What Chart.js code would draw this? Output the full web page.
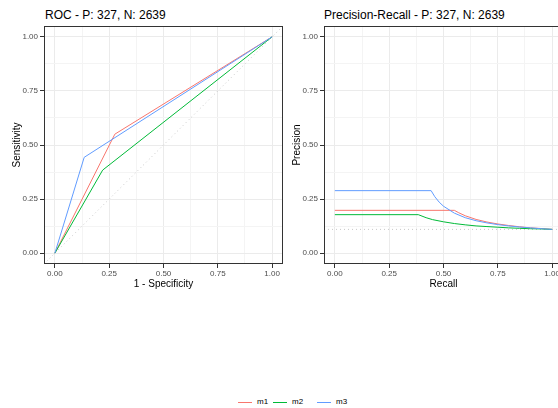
<!DOCTYPE html>
<html lang="en">
<head>
<meta charset="UTF-8">
<title>ROC and Precision-Recall</title>
<script src="https://cdn.jsdelivr.net/npm/chart.js@4.4.1/dist/chart.umd.min.js"></script>
<style type="text/css">
  html, body { margin: 0; padding: 0; background: #fff; overflow: hidden; }
  body { width: 558px; height: 408px; position: relative; font-family: "Liberation Sans", Arial, sans-serif; }
  canvas { position: absolute; top: 0; }
  #roc { left: 0; }
  #pr { left: 280px; }
  .ptitle { position: absolute; top: 9px; font-size: 12px; line-height: 12px; color: #000; white-space: nowrap; }
  .key { position: absolute; top: 402px; width: 14px; height: 1px; }
  .ktext { position: absolute; top: 397px; font-size: 8px; line-height: 10px; color: #000; }
</style>
</head>
<body>
  <div class="ptitle" style="left:45px">ROC - P: 327, N: 2639</div>
  <div class="ptitle" style="left:324px">Precision-Recall - P: 327, N: 2639</div>
  <canvas id="roc" width="290" height="300"></canvas>
  <canvas id="pr" width="290" height="300"></canvas>
  <div id="legend"></div>

<script>
// data
const modelNames = ['m1', 'm2', 'm3'];
const modelColors = ['#F8766D', '#00BA38', '#619CFF'];

// ROC: 1 - specificity vs sensitivity
const m1Fpr = [0, 0.276, 1];
const m1Tpr = [0, 0.550, 1];
const m2Fpr = [0, 0.220, 1];
const m2Tpr = [0, 0.384, 1];
const m3Fpr = [0, 0.135, 1];
const m3Tpr = [0, 0.443, 1];

// precision-recall
const m1Recall = [0, 0.55, 0.57, 0.60, 0.65, 0.70, 0.75, 0.80, 0.85, 0.90, 0.95, 1];
const m1Precision = [0.198, 0.198, 0.187, 0.173, 0.156, 0.144, 0.135, 0.128, 0.122, 0.117, 0.114, 0.110];
const m2Recall = [0, 0.384, 0.42, 0.45, 0.50, 0.55, 0.60, 0.65, 0.70, 0.75, 0.80, 0.85, 0.90, 0.95, 1];
const m2Precision = [0.178, 0.178, 0.164, 0.155, 0.145, 0.137, 0.131, 0.126, 0.123, 0.120, 0.117, 0.115, 0.113, 0.112, 0.110];
const m3Recall = [0, 0.443, 0.46, 0.48, 0.50, 0.55, 0.60, 0.65, 0.70, 0.75, 0.80, 0.85, 0.90, 0.95, 1];
const m3Precision = [0.289, 0.289, 0.261, 0.236, 0.217, 0.185, 0.164, 0.150, 0.140, 0.132, 0.126, 0.121, 0.117, 0.113, 0.110];

const prBaseline = 0.110; // 327 / (327 + 2639)

const gridValues = [0, 0.125, 0.25, 0.375, 0.5, 0.625, 0.75, 0.875, 1];
const tickLabels = ['0.00', '', '0.25', '', '0.50', '', '0.75', '', '1.00'];
const axisMin = -0.05, axisMax = 1.05;

function pts(xs, ys) {
  return xs.map((x, i) => ({x: x, y: ys[i]}));
}

function modelLine(i, data) {
  return {
    label: modelNames[i],
    data: data,
    borderColor: modelColors[i],
    borderWidth: 1,
    pointRadius: 0,
    fill: false,
    order: 3 - i
  };
}

function refLine(data) {
  return {
    label: 'ref',
    data: data,
    borderColor: '#c8c8c8',
    borderWidth: 1,
    borderDash: [1, 3],
    pointRadius: 0,
    fill: false,
    order: 10
  };
}

function axis(dir, titleText) {
  const s = {
    type: 'linear',
    min: axisMin,
    max: axisMax,
    afterBuildTicks: sc => { sc.ticks = gridValues.map(v => ({value: v})); },
    ticks: {
      autoSkip: false,
      maxRotation: 0,
      color: '#4D4D4D',
      font: {family: 'Liberation Sans', size: 8},
      padding: dir == 'x' ? 1 : 2,
      callback: (v, i) => tickLabels[i]
    },
    grid: {
      color: c => (c.index % 2 == 0 ? '#EBEBEB' : '#F4F4F4'),
      lineWidth: 1,
      tickLength: 4,
      tickColor: c => (c.index % 2 == 0 ? '#333333' : 'rgba(0,0,0,0)')
    },
    border: {display: false},
    title: {
      display: true,
      text: titleText,
      color: '#000',
      font: {family: 'Liberation Sans', size: 10}
    }
  };
  if (dir == 'x') {
    s.title.padding = {top: 0, bottom: 10};
    s.afterFit = sc => { sc.height = 36; };
  } else {
    s.title.padding = {top: 11, bottom: 0};
    s.afterFit = sc => { sc.width = 44; };
  }
  return s;
}

// ggplot style panel border
const panelBorder = {
  id: 'panelBorder',
  afterDraw(chart) {
    const a = chart.chartArea;
    const ctx = chart.ctx;
    ctx.save();
    ctx.strokeStyle = '#333333';
    ctx.lineWidth = 1;
    ctx.strokeRect(Math.round(a.left) + 0.5, Math.round(a.top) + 0.5,
      Math.round(a.right - a.left) - 1, Math.round(a.bottom - a.top) - 1);
    ctx.restore();
  }
};

function makeChart(id, datasets, xTitle, yTitle) {
  return new Chart(document.getElementById(id), {
    type: 'line',
    data: {datasets: datasets},
    options: {
      responsive: false,
      animation: false,
      devicePixelRatio: 1,
      events: [],
      layout: {padding: {top: 26, right: 7, bottom: 0, left: 0}},
      plugins: {legend: {display: false}, tooltip: {enabled: false}},
      scales: {x: axis('x', xTitle), y: axis('y', yTitle)}
    },
    plugins: [panelBorder]
  });
}

const rocChart = makeChart('roc', [
  modelLine(0, pts(m1Fpr, m1Tpr)),
  modelLine(1, pts(m2Fpr, m2Tpr)),
  modelLine(2, pts(m3Fpr, m3Tpr)),
  refLine(pts([axisMin, axisMax], [axisMin, axisMax]))
], '1 - Specificity', 'Sensitivity');

const prChart = makeChart('pr', [
  modelLine(0, pts(m1Recall, m1Precision)),
  modelLine(1, pts(m2Recall, m2Precision)),
  modelLine(2, pts(m3Recall, m3Precision)),
  refLine(pts([axisMin, axisMax], [prBaseline, prBaseline]))
], 'Recall', 'Precision');

// legend at the bottom
const keyLeft = [238, 273, 317];
const legend = document.getElementById('legend');
modelNames.forEach((name, i) => {
  const k = document.createElement('div');
  k.className = 'key';
  k.style.left = keyLeft[i] + 'px';
  k.style.background = modelColors[i];
  legend.appendChild(k);
  const t = document.createElement('div');
  t.className = 'ktext';
  t.style.left = (keyLeft[i] + 19) + 'px';
  t.textContent = name;
  legend.appendChild(t);
});
</script>
</body>
</html>
